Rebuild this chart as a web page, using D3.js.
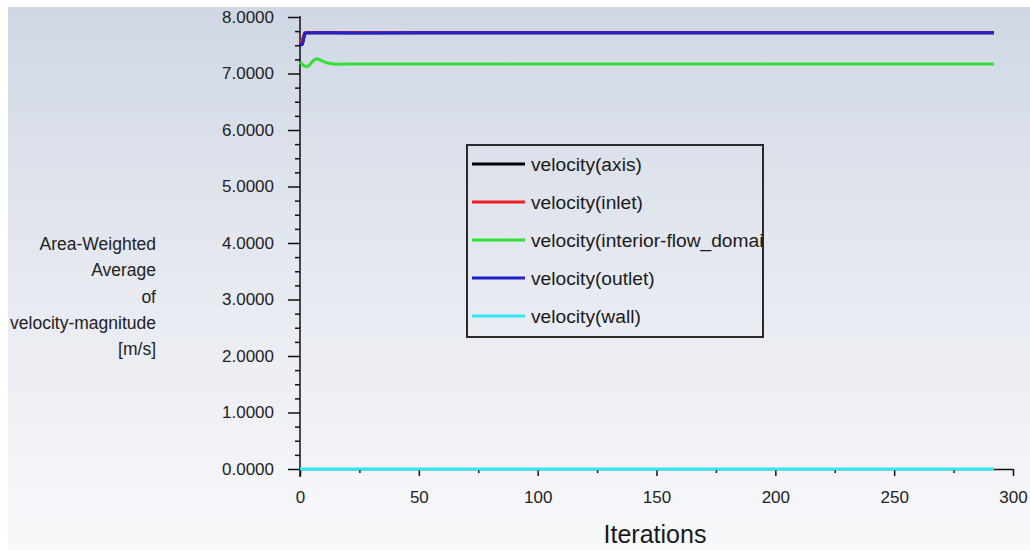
<!DOCTYPE html>
<html>
<head>
<meta charset="utf-8">
<script src="https://cdn.jsdelivr.net/npm/d3@7"></script>
<style>
  body { margin: 0; background: #fff; }
  svg { display: block; font-family: "Liberation Sans", Arial, sans-serif; }
</style>
</head>
<body>
<script>
const iters = [0, 1, 2, 3, 4, 5, 6, 7, 8, 10, 12, 15, 20, 30, 50, 100, 150, 200, 250, 292];

// series values (m/s)
const axisVel     = [7.50, 7.52, 7.71, 7.72, 7.72, 7.72, 7.72, 7.72, 7.72, 7.72, 7.72, 7.72, 7.72, 7.72, 7.72, 7.72, 7.72, 7.72, 7.72, 7.72];
const inletVel    = [7.55, 7.60, 7.72, 7.72, 7.72, 7.72, 7.72, 7.72, 7.72, 7.72, 7.72, 7.72, 7.72, 7.72, 7.72, 7.72, 7.72, 7.72, 7.72, 7.72];
const interiorVel = [7.20, 7.16, 7.13, 7.12, 7.15, 7.20, 7.24, 7.26, 7.25, 7.21, 7.18, 7.165, 7.17, 7.17, 7.17, 7.17, 7.17, 7.17, 7.17, 7.17];
const outletVel   = [7.50, 7.52, 7.71, 7.72, 7.72, 7.72, 7.72, 7.72, 7.72, 7.72, 7.72, 7.72, 7.715, 7.715, 7.72, 7.72, 7.72, 7.72, 7.72, 7.72];
const wallVel     = [0, 0, 0, 0, 0, 0, 0, 0, 0, 0, 0, 0, 0, 0, 0, 0, 0, 0, 0, 0];

const seriesNames = ["velocity(axis)", "velocity(inlet)", "velocity(interior-flow_domain)", "velocity(outlet)", "velocity(wall)"];
const seriesColors = ["#000000", "#ee1c1c", "#33e033", "#2222cc", "#33e6f0"];
const seriesValues = [axisVel, inletVel, interiorVel, outletVel, wallVel];

const xMajor = [0, 50, 100, 150, 200, 250, 300];
const xMinor = [25, 75, 125, 175, 225, 275];
const yMajor = [0, 1, 2, 3, 4, 5, 6, 7, 8];
const yMinor = [0.25, 0.5, 0.75, 1.25, 1.5, 1.75, 2.25, 2.5, 2.75, 3.25, 3.5, 3.75,
                4.25, 4.5, 4.75, 5.25, 5.5, 5.75, 6.25, 6.5, 6.75, 7.25, 7.5, 7.75];
const yLabelLines = ["Area-Weighted", "Average", "of", "velocity-magnitude", "[m/s]"];

const W = 1030, H = 550;

const svg = d3.select("body").append("svg")
  .attr("width", W)
  .attr("height", H);

// background gradient
const defs = svg.append("defs");
const grad = defs.append("linearGradient")
  .attr("id", "bg")
  .attr("x1", 0).attr("y1", 0).attr("x2", 0).attr("y2", 1);
grad.append("stop").attr("offset", "0%").attr("stop-color", "#d0d7e4");
grad.append("stop").attr("offset", "50%").attr("stop-color", "#e6e9f0");
grad.append("stop").attr("offset", "100%").attr("stop-color", "#f8f9fb");

svg.append("rect")
  .attr("x", 8).attr("y", 7)
  .attr("width", W - 8).attr("height", H - 7)
  .attr("fill", "url(#bg)");

const x = d3.scaleLinear().domain([0, 300]).range([300, 1013]);
const y = d3.scaleLinear().domain([0, 8]).range([469, 17]);

// x axis
const xAxisG = svg.append("g").attr("transform", "translate(0," + y(0) + ")");
xAxisG.call(d3.axisBottom(x).tickValues(xMajor).tickSize(7).tickSizeOuter(0).tickPadding(15));
xAxisG.append("g").call(d3.axisBottom(x).tickValues(xMinor).tickSize(4).tickFormat(""))
  .select(".domain").remove();
xAxisG.selectAll("text").attr("font-size", 17).attr("fill", "#222").attr("font-family", "Liberation Sans, Arial, sans-serif");
xAxisG.selectAll("line, path").attr("stroke", "#111").attr("stroke-width", 1.5);

// y axis
const yAxisG = svg.append("g").attr("transform", "translate(" + x(0) + ",0)");
yAxisG.call(d3.axisLeft(y).tickValues(yMajor).tickSize(12).tickPadding(14).tickFormat(d3.format(".4f")));
yAxisG.select(".domain").remove();
yAxisG.append("g").call(d3.axisLeft(y).tickValues(yMinor).tickSize(5).tickFormat(""))
  .select(".domain").remove();
yAxisG.append("line")
  .attr("x1", 0).attr("x2", 0)
  .attr("y1", y(8) - 1).attr("y2", y(0) + 8);
yAxisG.selectAll("text").attr("font-size", 17).attr("fill", "#222").attr("font-family", "Liberation Sans, Arial, sans-serif");
yAxisG.selectAll("line").attr("stroke", "#111").attr("stroke-width", 1.5);

// series lines
const line = d3.line()
  .x((d, i) => x(iters[i]))
  .y(d => y(d));

svg.append("g").selectAll("path")
  .data(seriesValues)
  .join("path")
  .attr("d", d => line(d))
  .attr("fill", "none")
  .attr("stroke", (d, i) => seriesColors[i])
  .attr("stroke-width", 3)
  .attr("stroke-linejoin", "round");

// y label
svg.append("text")
  .attr("text-anchor", "end")
  .attr("font-size", 17.5)
  .attr("fill", "#222")
  .selectAll("tspan")
  .data(yLabelLines)
  .join("tspan")
  .attr("x", 156)
  .attr("y", (d, i) => 250 + i * 26.3)
  .text(d => d);

// x title
svg.append("text")
  .attr("x", 655)
  .attr("y", 543)
  .attr("text-anchor", "middle")
  .attr("font-size", 25)
  .attr("fill", "#1a1a1a")
  .text("Iterations");

// legend
const lg = svg.append("g");
defs.append("clipPath").attr("id", "legclip")
  .append("rect").attr("x", 467).attr("y", 145).attr("width", 296).attr("height", 192);

lg.append("rect")
  .attr("x", 467).attr("y", 145)
  .attr("width", 296).attr("height", 192)
  .attr("fill", "none")
  .attr("stroke", "#2a2a2a")
  .attr("stroke-width", 2);

const items = lg.append("g").attr("clip-path", "url(#legclip)")
  .selectAll("g")
  .data(seriesNames)
  .join("g")
  .attr("transform", (d, i) => "translate(0," + (164 + i * 38) + ")");

items.append("line")
  .attr("x1", 472).attr("x2", 525)
  .attr("stroke", (d, i) => seriesColors[i])
  .attr("stroke-width", 3);

items.append("text")
  .attr("x", 531)
  .attr("dy", "0.35em")
  .attr("font-size", 19.2)
  .attr("fill", "#1a1a1a")
  .text(d => d);
</script>
</body>
</html>
